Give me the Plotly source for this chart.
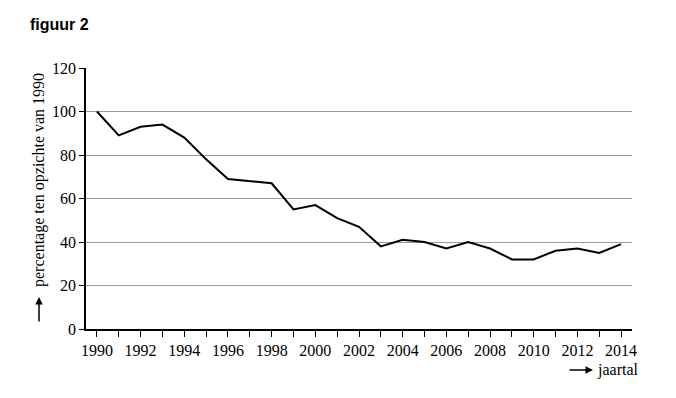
import plotly.graph_objects as go

years = list(range(1990, 2015))
values = [100, 89, 93, 94, 88, 78, 69, 68, 67, 55, 57, 51, 47, 38, 41, 40, 37, 40, 37, 32, 32, 36, 37, 35, 39]
x_tick_labels = [str(y) if y % 2 == 0 else "" for y in years]
y_ticks = [0, 20, 40, 60, 80, 100, 120]

serif = "Liberation Serif"
sans = "Liberation Sans"

PW, PH = 546, 261  # plot area size in px

fig = go.Figure()
fig.add_trace(go.Scatter(x=years, y=values, mode="lines",
                         line=dict(color="black", width=2), hoverinfo="skip"))

fig.update_layout(
    width=668, height=390,
    margin=dict(l=78, r=44, t=60, b=69),
    paper_bgcolor="white", plot_bgcolor="white",
    showlegend=False,
    font=dict(family=serif, size=16, color="black"),
)
fig.update_xaxes(range=[1989.5, 2014.5], tickvals=years, ticktext=x_tick_labels,
                 ticks="outside", ticklen=6, tickcolor="black", tickwidth=1,
                 showline=True, linecolor="black", linewidth=1.5,
                 showgrid=False, zeroline=False,
                 tickfont=dict(family=serif, size=16, color="black"))
fig.update_yaxes(range=[0, 120], tickvals=y_ticks,
                 ticks="outside", ticklen=5, tickcolor="black", tickwidth=1,
                 showline=True, linecolor="black", linewidth=1.5,
                 showgrid=True, gridcolor="#9a9a9a", gridwidth=1, zeroline=False,
                 tickfont=dict(family=serif, size=16, color="black"))

# title
fig.add_annotation(text="<b>figuur 2</b>", xref="paper", yref="paper",
                   x=-58/PW, y=304/PH, xanchor="left", yanchor="middle",
                   showarrow=False, font=dict(family=sans, size=16, color="black"))

# y-axis label
fig.add_annotation(text="percentage ten opzichte van 1990", xref="paper", yref="paper",
                   x=-47/PW, y=149/PH, textangle=-90,
                   xanchor="center", yanchor="middle", showarrow=False,
                   font=dict(family=serif, size=16, color="black"))
# y arrow
fig.add_annotation(xref="paper", yref="paper", x=-47/PW, y=32/PH,
                   ax=0, ay=26, text="",
                   showarrow=True, arrowhead=2, arrowsize=1, arrowwidth=1.5, arrowcolor="black")

# x-axis label
fig.add_annotation(text="jaartal", xref="paper", yref="paper",
                   x=509/PW, y=-41/PH, xanchor="left", yanchor="middle",
                   showarrow=False, font=dict(family=serif, size=16, color="black"))
fig.add_annotation(xref="paper", yref="paper", x=507/PW, y=-41/PH,
                   ax=-25, ay=0, text="",
                   showarrow=True, arrowhead=2, arrowsize=1, arrowwidth=1.5, arrowcolor="black")

fig.write_html("out.html")
